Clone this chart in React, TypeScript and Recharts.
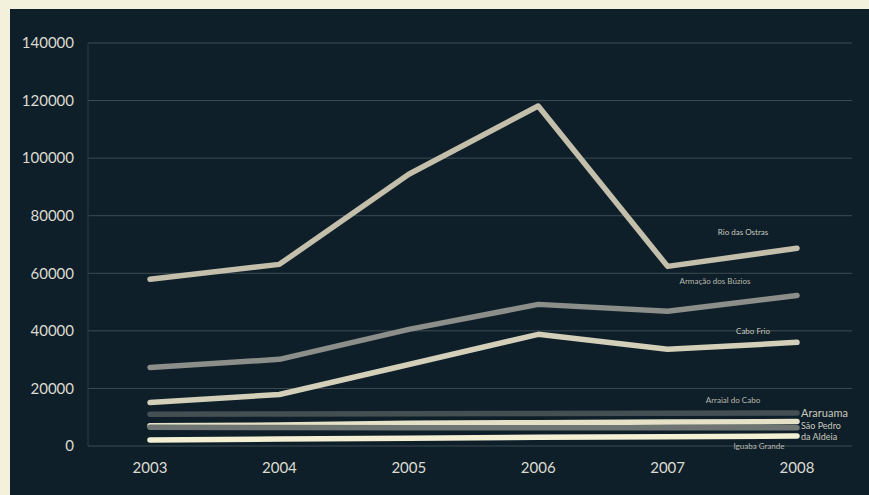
import React from 'react';
import { LineChart, Line, XAxis, YAxis, CartesianGrid } from 'recharts';

const years = ['2003', '2004', '2005', '2006', '2007', '2008'];
const yTicks = [0, 20000, 40000, 60000, 80000, 100000, 120000, 140000];

const rioDasOstras = [57900, 63100, 94400, 118100, 62400, 68700];
const armacaoDosBuzios = [27300, 30100, 40500, 49200, 46800, 52300];
const caboFrio = [15100, 17900, 28300, 38800, 33600, 36000];
const arraialDoCabo = [11000, 11100, 11200, 11300, 11400, 11500];
const araruama = [7000, 7300, 7900, 8100, 8300, 8500];
const saoPedro = [6500, 6400, 6300, 6300, 6300, 6300];
const iguabaGrande = [2100, 2400, 2700, 3000, 3200, 3500];

const data = years.map((y, i) => ({
  year: y,
  rio: rioDasOstras[i],
  buzios: armacaoDosBuzios[i],
  cabo: caboFrio[i],
  arraial: arraialDoCabo[i],
  araruama: araruama[i],
  saopedro: saoPedro[i],
  iguaba: iguabaGrande[i],
}));

type LabelSpec = { lines: string[]; dx: number; dy: number; anchor: 'start' | 'middle' | 'end'; size: number; color: string; lh?: number };

const makeLabel = (spec: LabelSpec) => (props: any) => {
  const { x, y, index } = props;
  if (index !== years.length - 1) return null;
  return (
    <text
      x={x + spec.dx}
      y={y + spec.dy}
      textAnchor={spec.anchor}
      fontSize={spec.size}
      fill={spec.color}
      fontFamily="Lato, 'Open Sans', sans-serif"
      dominantBaseline="central"
    >
      {spec.lines.map((l, k) => (
        <tspan key={k} x={x + spec.dx} dy={k === 0 ? 0 : spec.lh || spec.size + 2}>
          {l}
        </tspan>
      ))}
    </text>
  );
};

const series = [
  { key: 'arraial', color: '#434f52', label: { lines: ['Arraial do Cabo'], dx: -64, dy: -13, anchor: 'middle', size: 8, color: '#b9b8ac' } },
  { key: 'araruama', color: '#e4e1c6', label: { lines: ['Araruama'], dx: 4, dy: -10, anchor: 'start', size: 11, color: '#c9c8bc' } },
  { key: 'saopedro', color: '#6f7572', label: { lines: ['São Pedro', 'da Aldeia'], dx: 4, dy: -3, anchor: 'start', size: 9, color: '#c9c8bc', lh: 11 } },
  { key: 'iguaba', color: '#f3efd3', label: { lines: ['Iguaba Grande'], dx: -38, dy: 10, anchor: 'middle', size: 8, color: '#b9b8ac' } },
  { key: 'cabo', color: '#d3cfb9', label: { lines: ['Cabo Frio'], dx: -44, dy: -11, anchor: 'middle', size: 8, color: '#c9c8bc' } },
  { key: 'buzios', color: '#8c8e89', label: { lines: ['Armação dos Búzios'], dx: -82, dy: -14, anchor: 'middle', size: 8, color: '#b9b8ac' } },
  { key: 'rio', color: '#c3bfab', label: { lines: ['Rio das Ostras'], dx: -54, dy: -16, anchor: 'middle', size: 8, color: '#c9c8bc' } },
];

export default function App() {
  return (
    <div style={{ position: 'absolute', left: 0, top: 0, width: 869, height: 495, background: '#f3f1dc', overflow: 'hidden' }}>
      <div style={{ position: 'absolute', left: 10, top: 9, width: 859, height: 486, background: '#0f1f2a' }} />
      <div style={{ position: 'absolute', left: 0, top: 0 }}>
        <LineChart width={869} height={495} data={data} margin={{ top: 43, right: 17, bottom: 0, left: 0 }}>
          <CartesianGrid vertical={false} stroke="#3d4c52" strokeWidth={1} />
          <XAxis
            dataKey="year"
            height={49}
            axisLine={false}
            tickLine={false}
            tickSize={0}
            tickMargin={16}
            padding={{ left: 62, right: 55 }}
            tick={{ fill: '#dcdbd0', fontSize: 15, fontFamily: "Lato, 'Open Sans', sans-serif" }}
          />
          <YAxis
            width={88}
            domain={[0, 140000]}
            ticks={yTicks}
            interval={0}
            axisLine={{ stroke: '#2c3c44' }}
            tickLine={false}
            tickSize={0}
            tickMargin={14}
            tick={{ fill: '#dcdbd0', fontSize: 15, fontFamily: "Lato, 'Open Sans', sans-serif" }}
          />
          {series.map((s) => (
            <Line
              key={s.key}
              type="linear"
              dataKey={s.key}
              stroke={s.color}
              strokeWidth={5.5}
              strokeLinecap="round"
              strokeLinejoin="round"
              dot={false}
              activeDot={false}
              isAnimationActive={false}
              label={makeLabel(s.label as LabelSpec)}
            />
          ))}
        </LineChart>
      </div>
    </div>
  );
}
